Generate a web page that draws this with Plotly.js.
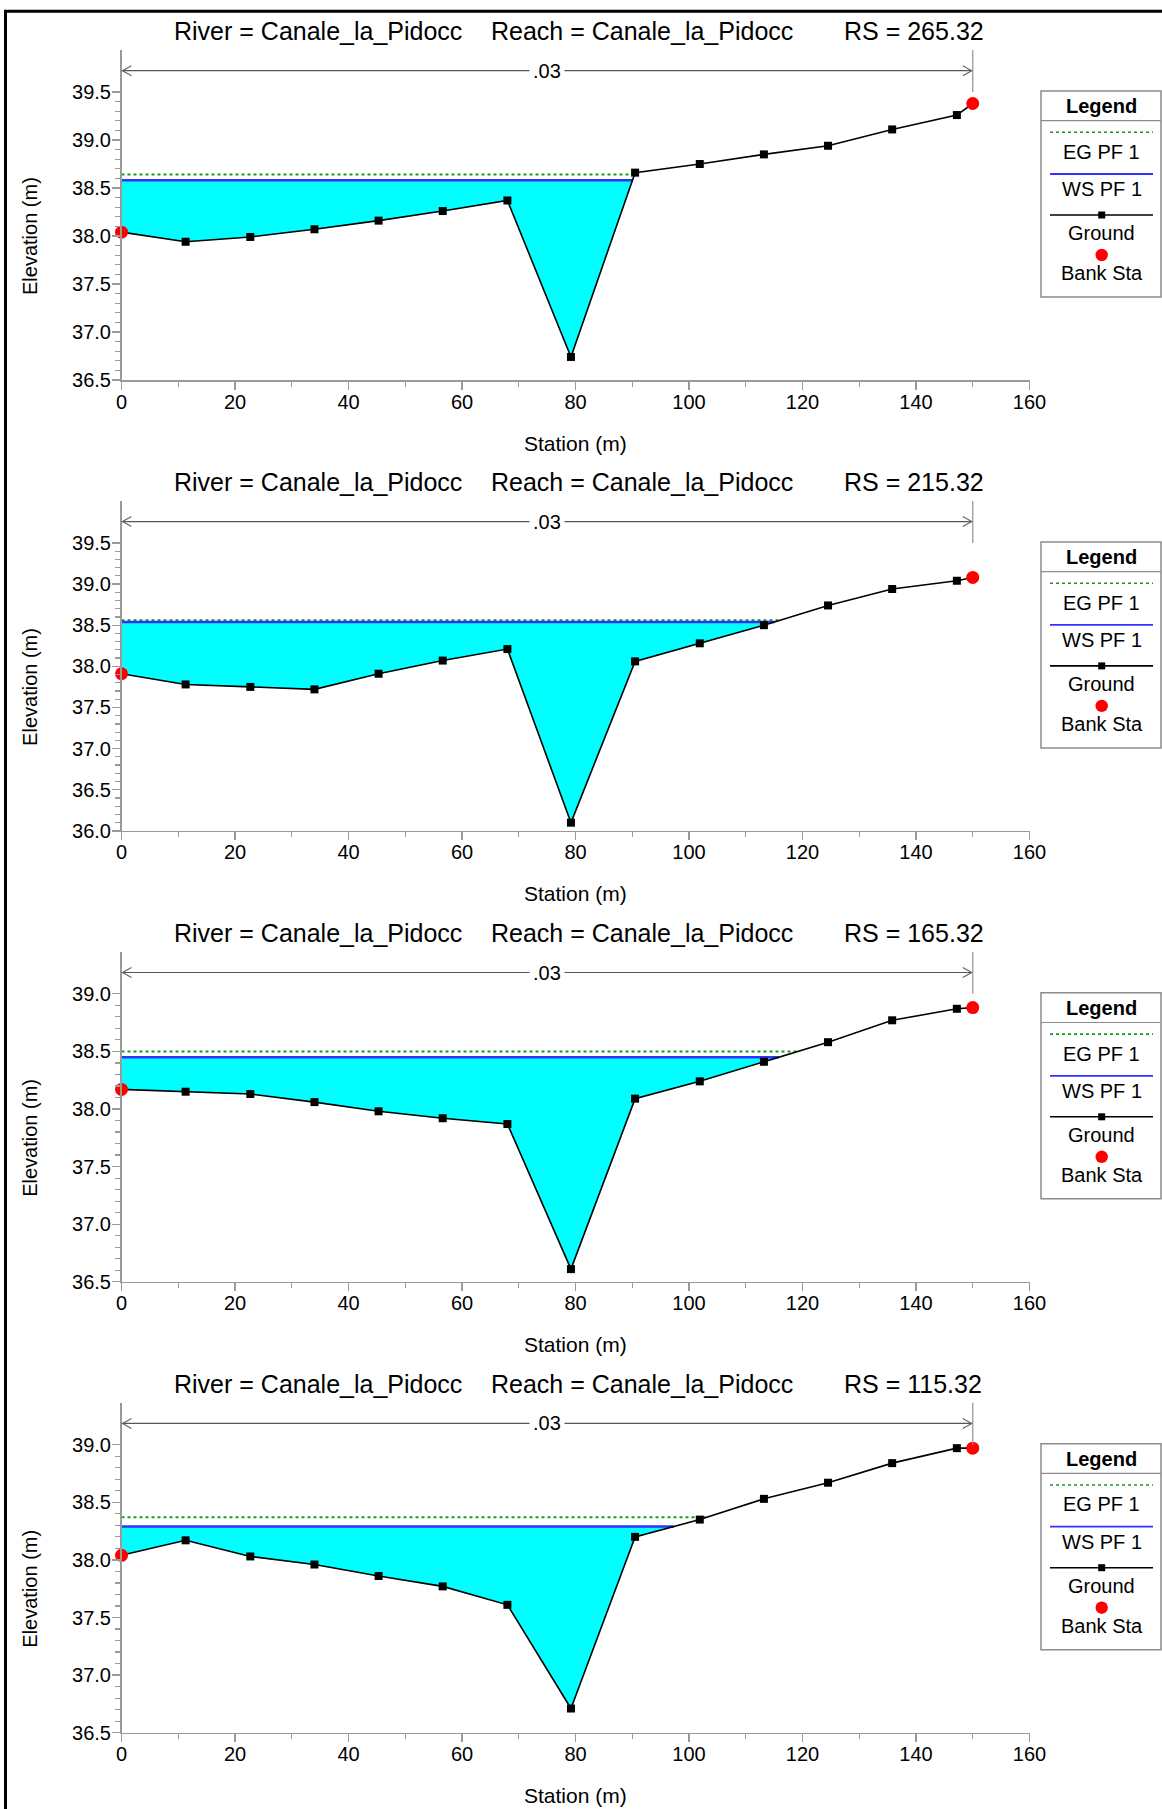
<!DOCTYPE html>
<html>
<head>
<meta charset="utf-8">
<script src="https://cdn.plot.ly/plotly-3.0.1.min.js"></script>
<style>html,body{margin:0;padding:0;background:#fff;}#chart{width:1162px;height:1809px;}</style>
</head>
<body>
<div id="chart"></div>
<script>
// ---------------- DATA ----------------
const riverName = 'Canale_la_Pidocc';
const reachName = 'Canale_la_Pidocc';
const rsLabels = ['265.32', '215.32', '165.32', '115.32'];
const stations = [0, 11.3, 22.7, 34.0, 45.3, 56.6, 68.0, 79.2, 90.5, 101.9, 113.2, 124.5, 135.8, 147.2, 150.0];
const ground265 = [38.04, 37.94, 37.99, 38.07, 38.16, 38.26, 38.37, 36.74, 38.66, 38.75, 38.85, 38.94, 39.11, 39.26, 39.38];
const ground215 = [37.91, 37.78, 37.75, 37.72, 37.91, 38.07, 38.21, 36.10, 38.06, 38.28, 38.50, 38.74, 38.94, 39.04, 39.08];
const ground165 = [38.17, 38.15, 38.13, 38.06, 37.98, 37.92, 37.87, 36.61, 38.09, 38.24, 38.41, 38.58, 38.77, 38.87, 38.88];
const ground115 = [38.04, 38.17, 38.03, 37.96, 37.86, 37.77, 37.61, 36.71, 38.20, 38.35, 38.53, 38.67, 38.84, 38.97, 38.97];
const wsElev = [38.58, 38.54, 38.45, 38.29];
const egElev = [38.64, 38.56, 38.50, 38.37];
const bankSta = [0, 150];
const manningN = '.03';
const yTicks265 = [36.5, 37.0, 37.5, 38.0, 38.5, 39.0, 39.5];
const yTicks215 = [36.0, 36.5, 37.0, 37.5, 38.0, 38.5, 39.0, 39.5];
const yTicks165 = [36.5, 37.0, 37.5, 38.0, 38.5, 39.0];
const yTicks115 = [36.5, 37.0, 37.5, 38.0, 38.5, 39.0];
const xTicks = [0, 20, 40, 60, 80, 100, 120, 140, 160];
const legendLabels = ['EG PF 1', 'WS PF 1', 'Ground', 'Bank Sta'];

const grounds = [ground265, ground215, ground165, ground115];
const yTickSets = [yTicks265, yTicks215, yTicks165, yTicks115];

// ---------------- LAYOUT HELPERS ----------------
const W = 1162, H = 1809;
const px = x => x / W;
const py = y => 1 - y / H;
const FONT = 'Liberation Sans, Arial, sans-serif';
const AXC = '#9a9a9a';
const plotLeft = 121.5, plotRight = 1029.5;
const panelStep = 450.9, firstBottom = 380, plotH = 330, labelSpan = 288;

function waterPolygon(st, gr, level) {
  const xs = [st[0]], ys = [level];
  for (let i = 0; i < st.length; i++) {
    if (gr[i] <= level) { xs.push(st[i]); ys.push(gr[i]); }
    if (i < st.length - 1) {
      const a = gr[i], b = gr[i + 1];
      if (a < level && b > level) {
        const t = (level - a) / (b - a);
        xs.push(st[i] + t * (st[i + 1] - st[i])); ys.push(level);
        break;
      }
    }
  }
  return { xs, ys };
}
function crossing(st, gr, level) {
  for (let i = 0; i < st.length - 1; i++) {
    const a = gr[i], b = gr[i + 1];
    if (a <= level && b > level) return st[i] + (level - a) / (b - a) * (st[i + 1] - st[i]);
  }
  return st[st.length - 1];
}
function minorVals(ticks) {
  const out = [];
  for (let i = 0; i < ticks.length - 1; i++) {
    for (let j = 1; j < 5; j++) out.push(+(ticks[i] + (ticks[i + 1] - ticks[i]) * j / 5).toFixed(3));
  }
  return out;
}

const data = [];
const layout = {
  width: W, height: H,
  margin: { l: 0, r: 0, t: 0, b: 0 },
  paper_bgcolor: '#ffffff', plot_bgcolor: '#ffffff',
  showlegend: false,
  font: { family: FONT, color: '#000' },
  shapes: [], annotations: []
};

// outer frame (top and left)
layout.shapes.push({ type: 'line', xref: 'paper', yref: 'paper', x0: px(4), x1: px(1162), y0: py(11.3), y1: py(11.3), line: { color: '#000', width: 3 } });
layout.shapes.push({ type: 'line', xref: 'paper', yref: 'paper', x0: px(5.5), x1: px(5.5), y0: py(10), y1: py(1809), line: { color: '#000', width: 3 } });

for (let k = 0; k < 4; k++) {
  const s = k === 0 ? '' : String(k + 1);
  const xa = 'x' + s, ya = 'y' + s;
  const gr = grounds[k];
  const ticks = yTickSets[k];
  const bottom = firstBottom + panelStep * k;
  const top = bottom - plotH;
  const yMin = ticks[0], yLab = ticks[ticks.length - 1];
  const yTop = yMin + (yLab - yMin) * plotH / labelSpan;

  layout['xaxis' + s] = {
    domain: [px(plotLeft), px(plotRight)], anchor: ya, range: [0, 160],
    showline: true, linecolor: AXC, linewidth: 1.5, mirror: false,
    ticks: 'outside', ticklen: 8, tickwidth: 1.2, tickcolor: AXC, ticklabelstandoff: -5,
    tickmode: 'array', tickvals: xTicks, ticktext: xTicks.map(String),
    minor: { tickmode: 'array', tickvals: xTicks.slice(0, -1).map((v, i) => (v + xTicks[i + 1]) / 2), ticks: 'outside', ticklen: 5, tickwidth: 1.2, tickcolor: AXC },
    showgrid: false, zeroline: false,
    tickfont: { family: FONT, size: 20, color: '#000' }
  };
  layout['yaxis' + s] = {
    domain: [py(bottom), py(top)], anchor: xa, range: [yMin, yTop],
    showline: true, linecolor: AXC, linewidth: 1.5,
    ticks: 'outside', ticklen: 8, tickwidth: 1.2, tickcolor: AXC, ticklabelstandoff: -3,
    tickmode: 'array', tickvals: ticks, ticktext: ticks.map(v => v.toFixed(1)),
    minor: { tickmode: 'array', tickvals: minorVals(ticks), ticks: 'outside', ticklen: 5, tickwidth: 1.2, tickcolor: AXC },
    showgrid: false, zeroline: false,
    tickfont: { family: FONT, size: 20, color: '#000' }
  };

  // water fill
  const poly = waterPolygon(stations, gr, wsElev[k]);
  data.push({ x: poly.xs, y: poly.ys, xaxis: xa, yaxis: ya, mode: 'lines', fill: 'toself', fillcolor: '#00ffff', line: { width: 0, color: 'rgba(0,0,0,0)' }, hoverinfo: 'skip' });
  // EG
  data.push({ x: [stations[0], crossing(stations, gr, egElev[k])], y: [egElev[k], egElev[k]], xaxis: xa, yaxis: ya, mode: 'lines', line: { color: '#169c16', width: 2, dash: 'dot' }, name: 'EG PF 1' });
  // WS
  data.push({ x: [stations[0], poly.xs[poly.xs.length - 1]], y: [wsElev[k], wsElev[k]], xaxis: xa, yaxis: ya, mode: 'lines', line: { color: '#3232ff', width: 2.5 }, name: 'WS PF 1' });
  // Ground
  data.push({ x: stations, y: gr, xaxis: xa, yaxis: ya, mode: 'lines+markers', line: { color: '#000', width: 1.6 }, marker: { symbol: 'square', size: 8, color: '#000' }, cliponaxis: false, name: 'Ground' });
  // Bank stations
  data.push({ x: bankSta, y: bankSta.map(b => gr[stations.indexOf(b)]), xaxis: xa, yaxis: ya, mode: 'markers', marker: { symbol: 'circle', size: 13, color: '#ff0000' }, cliponaxis: false, name: 'Bank Sta' });

  // Titles
  const tY = py(bottom - 349);
  const titleParts = [['River = ' + riverName, 172], ['Reach = ' + reachName, 489], ['RS = ' + rsLabels[k], 842]];
  titleParts.forEach(([t, x]) => layout.annotations.push({ text: t, xref: 'paper', yref: 'paper', x: px(x), y: tY, xanchor: 'left', yanchor: 'middle', showarrow: false, font: { family: FONT, size: 25, color: '#000' } }));
  layout.annotations.push({ text: 'Station (m)', xref: 'paper', yref: 'paper', x: px((plotLeft + plotRight) / 2), y: py(bottom + 63), xanchor: 'center', yanchor: 'middle', showarrow: false, font: { family: FONT, size: 21, color: '#000' } });
  layout.annotations.push({ text: 'Elevation (m)', xref: 'paper', yref: 'paper', x: px(30), y: py(bottom - 144), xanchor: 'center', yanchor: 'middle', textangle: -90, showarrow: false, font: { family: FONT, size: 20, color: '#000' } });

  // Manning's n arrow line
  const nY = py(bottom - 309.3);
  layout.shapes.push({ type: 'line', xref: xa, yref: 'paper', x0: bankSta[0], x1: bankSta[1], y0: nY, y1: nY, line: { color: '#555', width: 1.2 } });
  layout.shapes.push({ type: 'path', xref: xa, yref: 'paper', xsizemode: 'pixel', ysizemode: 'pixel', xanchor: bankSta[0], yanchor: nY, path: 'M10,-5L1,0L10,5', line: { color: '#666', width: 1.2 } });
  layout.shapes.push({ type: 'path', xref: xa, yref: 'paper', xsizemode: 'pixel', ysizemode: 'pixel', xanchor: bankSta[1], yanchor: nY, path: 'M-10,-5L-1,0L-10,5', line: { color: '#666', width: 1.2 } });
  layout.shapes.push({ type: 'line', xref: xa, yref: 'paper', x0: bankSta[1], x1: bankSta[1], y0: py(top), y1: py(top + 42), line: { color: AXC, width: 1.3 } });
  layout.annotations.push({ text: manningN, xref: xa, yref: 'paper', x: (bankSta[0] + bankSta[1]) / 2, y: nY, xanchor: 'center', yanchor: 'middle', showarrow: false, bgcolor: '#ffffff', borderpad: 3, font: { family: FONT, size: 20, color: '#000' } });

  // Legend box
  const off = bottom - firstBottom;
  const L0 = 1041, L1 = 1161, LT = 91 + off, LB = 297 + off, LC = 1101.7;
  layout.shapes.push({ type: 'rect', xref: 'paper', yref: 'paper', x0: px(L0), x1: px(L1), y0: py(LB), y1: py(LT), line: { color: '#8c8c8c', width: 1.5 }, fillcolor: 'rgba(0,0,0,0)' });
  layout.shapes.push({ type: 'line', xref: 'paper', yref: 'paper', x0: px(L0), x1: px(L1), y0: py(LT + 29.7), y1: py(LT + 29.7), line: { color: '#8c8c8c', width: 1.2 } });
  layout.annotations.push({ text: '<b>Legend</b>', xref: 'paper', yref: 'paper', x: px(LC), y: py(LT + 15), xanchor: 'center', yanchor: 'middle', showarrow: false, font: { family: FONT, size: 20, color: '#000' } });
  const lx0 = px(1050), lx1 = px(1153);
  layout.shapes.push({ type: 'line', xref: 'paper', yref: 'paper', x0: lx0, x1: lx1, y0: py(LT + 41.3), y1: py(LT + 41.3), line: { color: '#169c16', width: 1.6, dash: 'dot' } });
  layout.shapes.push({ type: 'line', xref: 'paper', yref: 'paper', x0: lx0, x1: lx1, y0: py(LT + 83), y1: py(LT + 83), line: { color: '#3232ff', width: 1.8 } });
  layout.shapes.push({ type: 'line', xref: 'paper', yref: 'paper', x0: lx0, x1: lx1, y0: py(LT + 124), y1: py(LT + 124), line: { color: '#000', width: 1.6 } });
  layout.shapes.push({ type: 'rect', xref: 'paper', yref: 'paper', x0: px(LC - 3.5), x1: px(LC + 3.5), y0: py(LT + 127.5), y1: py(LT + 120.5), line: { width: 0 }, fillcolor: '#000' });
  layout.shapes.push({ type: 'circle', xref: 'paper', yref: 'paper', x0: px(LC - 6.2), x1: px(LC + 6.2), y0: py(LT + 170.2), y1: py(LT + 157.8), line: { width: 0 }, fillcolor: '#ff0000' });
  const textY = [60.7, 98, 142, 182.3];
  legendLabels.forEach((t, i) => layout.annotations.push({ text: t, xref: 'paper', yref: 'paper', x: px(LC), y: py(LT + textY[i]), xanchor: 'center', yanchor: 'middle', showarrow: false, font: { family: FONT, size: 20, color: '#000' } }));
}

Plotly.newPlot('chart', data, layout, { staticPlot: true, displayModeBar: false });
</script>
</body>
</html>
